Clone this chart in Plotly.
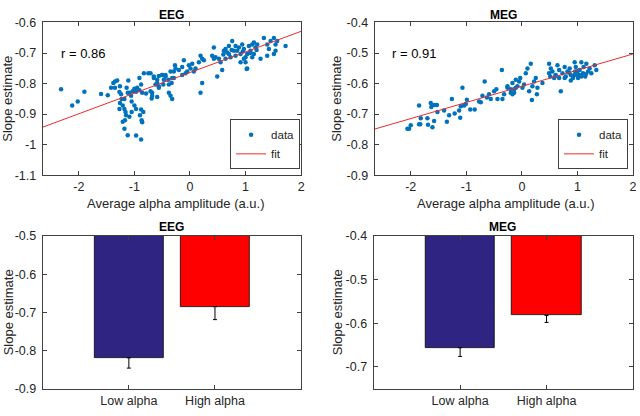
import plotly.graph_objects as go

# ---------------- data ----------------
eeg_x = [-2.32, -2.12, -2.02, -1.90, -1.60, -1.48, -1.42, -1.38, -1.35, -1.31, -1.35, -1.27,
         -1.24, -1.23, -1.26, -1.21, -1.27, -1.18, -1.16, -1.21, -1.17, -1.18, -1.12, -0.97,
         -0.88, -1.11, -1.14, -1.09, -1.06, -1.12, -1.03, -1.00, -0.97, -0.95, -0.91, -0.88,
         -0.91, -0.83, -0.75, -0.86, -0.79, -1.05, -1.00, -0.97, -0.88, -0.84, -0.90, -0.87,
         -0.86, -1.05, -1.09, -1.15, -0.65, -0.56, -0.50, -0.59, -0.48, -0.68, -0.69, -0.47,
         -0.44, -0.39, -0.38, -0.32, -0.35, -0.56, -1.26, -1.18,
         -0.71, -0.65, -0.59, -0.50, -0.44, -0.62, -0.56, -0.71, -0.68, -0.59, -0.38, -0.35,
         -0.32, -0.33, -0.29, -0.29, -0.26, -0.27, -0.20, -0.14, -0.11, -0.02, 0.01, 0.04,
         0.07, 0.10, 0.16, 0.19, 0.22, 0.25, -0.08, -0.14, -0.05, 0.22, 0.19, 0.43, 0.40,
         0.43, 0.46, 0.52, 0.49, 0.58, 0.55, 0.61, 0.64, 0.67, 0.70, 0.73, 0.70, 0.76, 0.79,
         0.82, 0.85, 0.88, 0.91, 0.94, 0.97, 1.00, 1.03, 0.97, 1.03, 1.06, 1.09, 1.12, 1.15,
         1.18, 1.21, 1.15, 1.12, 1.27, 1.33, 1.39, 1.42, 1.45, 1.51, 1.54, 1.57, 1.51, 1.54,
         1.39, 1.72, 0.82, 0.64, 0.91, 1.00, 1.02, 0.60, 0.75, 0.95, 1.08, 1.20]
eeg_y = [-0.819, -0.872, -0.859, -0.827, -0.834, -0.838, -0.814, -0.798, -0.793, -0.790, -0.814, -0.828,
         -0.835, -0.851, -0.864, -0.872, -0.883, -0.883, -0.893, -0.925, -0.920, -0.948, -0.969, -0.970,
         -0.983, -0.790, -0.814, -0.830, -0.840, -0.830, -0.825, -0.817, -0.827, -0.814, -0.822, -0.803,
         -0.782, -0.766, -0.766, -0.830, -0.833, -0.859, -0.872, -0.883, -0.885, -0.893, -0.904, -0.920,
         -0.927, -0.893, -0.909, -0.904, -0.782, -0.775, -0.772, -0.798, -0.803, -0.830, -0.849, -0.788,
         -0.772, -0.788, -0.803, -0.782, -0.761, -0.814, -0.809, -0.851,
         -0.766, -0.777, -0.788, -0.772, -0.777, -0.803, -0.809, -0.825, -0.840, -0.844, -0.830, -0.840,
         -0.851, -0.798, -0.782, -0.761, -0.751, -0.740, -0.756, -0.746, -0.724, -0.740, -0.751, -0.735,
         -0.761, -0.751, -0.730, -0.709, -0.719, -0.724, -0.766, -0.772, -0.761, -0.798, -0.830, -0.682, -0.709,
         -0.719, -0.714, -0.719, -0.777, -0.756, -0.730, -0.693, -0.687, -0.698, -0.703, -0.714, -0.677, -0.661, -0.693,
         -0.709, -0.693, -0.682, -0.703, -0.672, -0.687, -0.714, -0.703, -0.719, -0.751, -0.677, -0.693, -0.672, -0.666,
         -0.682, -0.672, -0.703, -0.714, -0.719, -0.651, -0.672, -0.687, -0.661, -0.651, -0.672, -0.661, -0.703, -0.693,
         -0.709, -0.677, -0.677, -0.719, -0.730, -0.730, -0.752, -0.705, -0.690, -0.695, -0.700, -0.690]

meg_x = [-2.03, -2.00, -1.85, -1.82, -1.83, -1.70, -1.69, -1.64, -1.63, -1.58, -1.61, -1.58,
         -1.53, -1.52, -1.40, -1.35, -1.31, -1.26, -1.21, -1.13, -1.11, -1.10, -1.07, -1.04,
         -1.01, -0.99, -0.93, -0.85, -0.77, -0.74, -0.71, -0.67, -0.63, -0.59, -0.56, -0.50,
         -0.46, -0.44, -0.36, -0.32, -0.26, -0.20, -0.14, -0.17, -0.11,
         -0.35, -0.26, -0.20, -0.17, -0.14, -0.11, -0.08, -0.05, -0.03, 0.01, 0.04, 0.07,
         0.10, 0.13, 0.16, 0.18, 0.19, 0.22, 0.25, 0.27, 0.28, 0.37, 0.49, 0.49, 0.51, 0.52,
         0.55, 0.58, 0.61, 0.64, 0.67, 0.67, 0.70, 0.73, 0.77, 0.79, 0.82, 0.86, 0.88, 0.92,
         0.95, 0.96, 0.97, 1.01, 1.04, 1.07, 1.10, 1.11, 1.14, 1.16, 1.19, 1.22, 1.25, 1.31,
         1.34, 1.01, 0.88, 0.77, 1.07, 0.95, 1.04, -2.06, -1.85, 0.60, 0.85, 1.00, 1.15]
meg_y = [-0.748, -0.737, -0.672, -0.714, -0.733, -0.714, -0.735, -0.664, -0.677, -0.670, -0.743, -0.723,
         -0.670, -0.693, -0.688, -0.725, -0.704, -0.651, -0.698, -0.688, -0.712, -0.674, -0.614, -0.672,
         -0.667, -0.653, -0.685, -0.685, -0.659, -0.661, -0.640, -0.593, -0.646, -0.635, -0.651, -0.625,
         -0.619, -0.651, -0.556, -0.635, -0.609, -0.619, -0.630, -0.598, -0.614,
         -0.651, -0.614, -0.630, -0.635, -0.619, -0.588, -0.609, -0.593, -0.582, -0.614, -0.603, -0.566,
         -0.551, -0.625, -0.535, -0.654, -0.609, -0.593, -0.582, -0.635, -0.614, -0.598, -0.566, -0.535, -0.577, -0.551,
         -0.561, -0.582, -0.572, -0.540, -0.556, -0.582, -0.625, -0.566, -0.546, -0.577, -0.561, -0.551, -0.572, -0.582,
         -0.530, -0.561, -0.546, -0.572, -0.556, -0.530, -0.566, -0.546, -0.577, -0.535, -0.561, -0.551, -0.566, -0.540,
         -0.556, -0.582, -0.590, -0.582, -0.577, -0.572, -0.572, -0.748, -0.733, -0.575, -0.565, -0.560, -0.570]

eeg_fit = {"slope": 0.0675, "intercept": -0.764}
meg_fit = {"slope": 0.0529, "intercept": -0.609}
eeg_r = "r = 0.86"
meg_r = "r = 0.91"

bar_categories = ["Low alpha", "High alpha"]
eeg_bar_means = [-0.819, -0.685]
eeg_bar_err = [0.027, 0.034]
meg_bar_means = [-0.656, -0.582]
meg_bar_err = [0.020, 0.016]
bar_colors = ["#2F2482", "#FF0000"]

scatter_xlim = [-2.65, 2.0]
scatter_xticks = [-2, -1, 0, 1, 2]
eeg_ylim = [-1.1, -0.6]
eeg_yticks = [-1.1, -1.0, -0.9, -0.8, -0.7, -0.6]
meg_ylim = [-0.9, -0.4]
meg_yticks = [-0.9, -0.8, -0.7, -0.6, -0.5, -0.4]
eeg_bar_ylim = [-0.9, -0.5]
eeg_bar_yticks = [-0.9, -0.8, -0.7, -0.6, -0.5]
meg_bar_ylim = [-0.75, -0.4]
meg_bar_yticks = [-0.7, -0.6, -0.5, -0.4]


def fmt(v):
    return "%g" % round(v, 2)


W, H = 640, 416
FONT = "Liberation Sans, Arial, sans-serif"
AX = "#404040"
TXT = "#262626"
FS = 13
TFS = 12.5

fig = go.Figure()

for i, (xs, ys, fit, legend) in enumerate([(eeg_x, eeg_y, eeg_fit, "legend"),
                                            (meg_x, meg_y, meg_fit, "legend2")]):
    xa = "x" if i == 0 else "x2"
    ya = "y" if i == 0 else "y2"
    fig.add_trace(go.Scatter(x=xs, y=ys, mode="markers", name="data",
                             marker=dict(color="#0072BD", size=4.5),
                             xaxis=xa, yaxis=ya, legend=legend))
    fx = scatter_xlim
    fy = [fit["slope"] * v + fit["intercept"] for v in fx]
    fig.add_trace(go.Scatter(x=fx, y=fy, mode="lines", name="fit",
                             line=dict(color="#EE2A2A", width=1),
                             xaxis=xa, yaxis=ya, legend=legend))

for i, (means, errs) in enumerate([(eeg_bar_means, eeg_bar_err), (meg_bar_means, meg_bar_err)]):
    xa = "x3" if i == 0 else "x4"
    ya = "y3" if i == 0 else "y4"
    fig.add_trace(go.Bar(x=[1, 2], y=means, width=0.8, showlegend=False,
                         marker=dict(color=bar_colors, line=dict(color="#000000", width=0.8)),
                         error_y=dict(type="data", symmetric=False, array=[0, 0], arrayminus=errs,
                                      color="#000000", thickness=1, width=2),
                         xaxis=xa, yaxis=ya))


def xd(a, b):
    return [a / W, b / W]


def yd(top, bottom):
    return [1 - bottom / H, 1 - top / H]


common = dict(showline=True, mirror="ticks", linecolor=AX, linewidth=1, ticks="inside",
              ticklen=4, tickcolor=AX, showgrid=False, zeroline=False,
              tickfont=dict(family=FONT, size=TFS, color=TXT))

leg = dict(bgcolor="white", bordercolor=AX, borderwidth=1,
           font=dict(family=FONT, size=11.5, color=TXT), tracegroupgap=0, itemwidth=30)

fig.update_layout(
    width=W, height=H, autosize=False,
    margin=dict(l=0, r=0, t=0, b=0),
    paper_bgcolor="white", plot_bgcolor="white",
    font=dict(family=FONT, size=FS, color=TXT),
    xaxis=dict(domain=xd(43, 303), range=scatter_xlim, tickvals=scatter_xticks,
               ticktext=[fmt(v) for v in scatter_xticks], anchor="y", **common),
    yaxis=dict(domain=yd(16, 174), range=eeg_ylim, tickvals=eeg_yticks,
               ticktext=[fmt(v) for v in eeg_yticks], anchor="x", ticklabelstandoff=3, **common),
    xaxis2=dict(domain=xd(377, 637), range=scatter_xlim, tickvals=scatter_xticks,
                ticktext=[fmt(v) for v in scatter_xticks], anchor="y2", **common),
    yaxis2=dict(domain=yd(16, 174), range=meg_ylim, tickvals=meg_yticks,
                ticktext=[fmt(v) for v in meg_yticks], anchor="x2", ticklabelstandoff=3, **common),
    xaxis3=dict(domain=xd(43, 303), range=[0, 3], tickvals=[1, 2], ticktext=bar_categories,
                anchor="y3", **common),
    yaxis3=dict(domain=yd(237, 395), range=eeg_bar_ylim, tickvals=eeg_bar_yticks,
                ticktext=[fmt(v) for v in eeg_bar_yticks], anchor="x3", ticklabelstandoff=3, **common),
    xaxis4=dict(domain=xd(376, 637), range=[0, 3], tickvals=[1, 2], ticktext=bar_categories,
                anchor="y4", **common),
    yaxis4=dict(domain=yd(237, 395), range=meg_bar_ylim, tickvals=meg_bar_yticks,
                ticktext=[fmt(v) for v in meg_bar_yticks], anchor="x4", ticklabelstandoff=3, **common),
    legend=dict(x=302 / W, y=1 - 168 / H, xanchor="right", yanchor="bottom", **leg),
    legend2=dict(x=632 / W, y=1 - 168 / H, xanchor="right", yanchor="bottom", **leg),
    bargap=0,
)

ann = []
for xc, yc, t in [((43 + 303) / 2, 8, "EEG"), ((377 + 636) / 2, 8, "MEG"),
                  ((43 + 303) / 2, 228, "EEG"), ((376 + 636) / 2, 228, "MEG")]:
    ann.append(dict(x=xc / W, y=1 - yc / H, xref="paper", yref="paper", text="<b>%s</b>" % t,
                    showarrow=False, xanchor="center", yanchor="middle",
                    font=dict(family=FONT, size=12, color="#000000")))
for xc in [(43 + 303) / 2 + 4, (377 + 636) / 2 + 3]:
    ann.append(dict(x=xc / W, y=1 - 203 / H, xref="paper", yref="paper",
                    text="Average alpha amplitude (a.u.)", showarrow=False,
                    xanchor="center", yanchor="middle",
                    font=dict(family=FONT, size=FS, color=TXT)))
for xc, yc in [(8, 95), (339, 95), (8, 316), (339, 316)]:
    ann.append(dict(x=xc / W, y=1 - yc / H, xref="paper", yref="paper",
                    text="Slope estimate", showarrow=False, textangle=-90,
                    xanchor="center", yanchor="middle",
                    font=dict(family=FONT, size=FS, color=TXT)))
ann.append(dict(x=-2.35, y=-0.7, xref="x", yref="y", text=eeg_r, showarrow=False,
                xanchor="left", yanchor="middle", font=dict(family=FONT, size=FS, color="#000000")))
ann.append(dict(x=-2.38, y=-0.5, xref="x2", yref="y2", text=meg_r, showarrow=False,
                xanchor="left", yanchor="middle", font=dict(family=FONT, size=FS, color="#000000")))
fig.update_layout(annotations=ann)

fig.write_html("out.html", config={"displayModeBar": False},
               post_script="document.body.style.margin='0';document.body.style.overflow='hidden';")
